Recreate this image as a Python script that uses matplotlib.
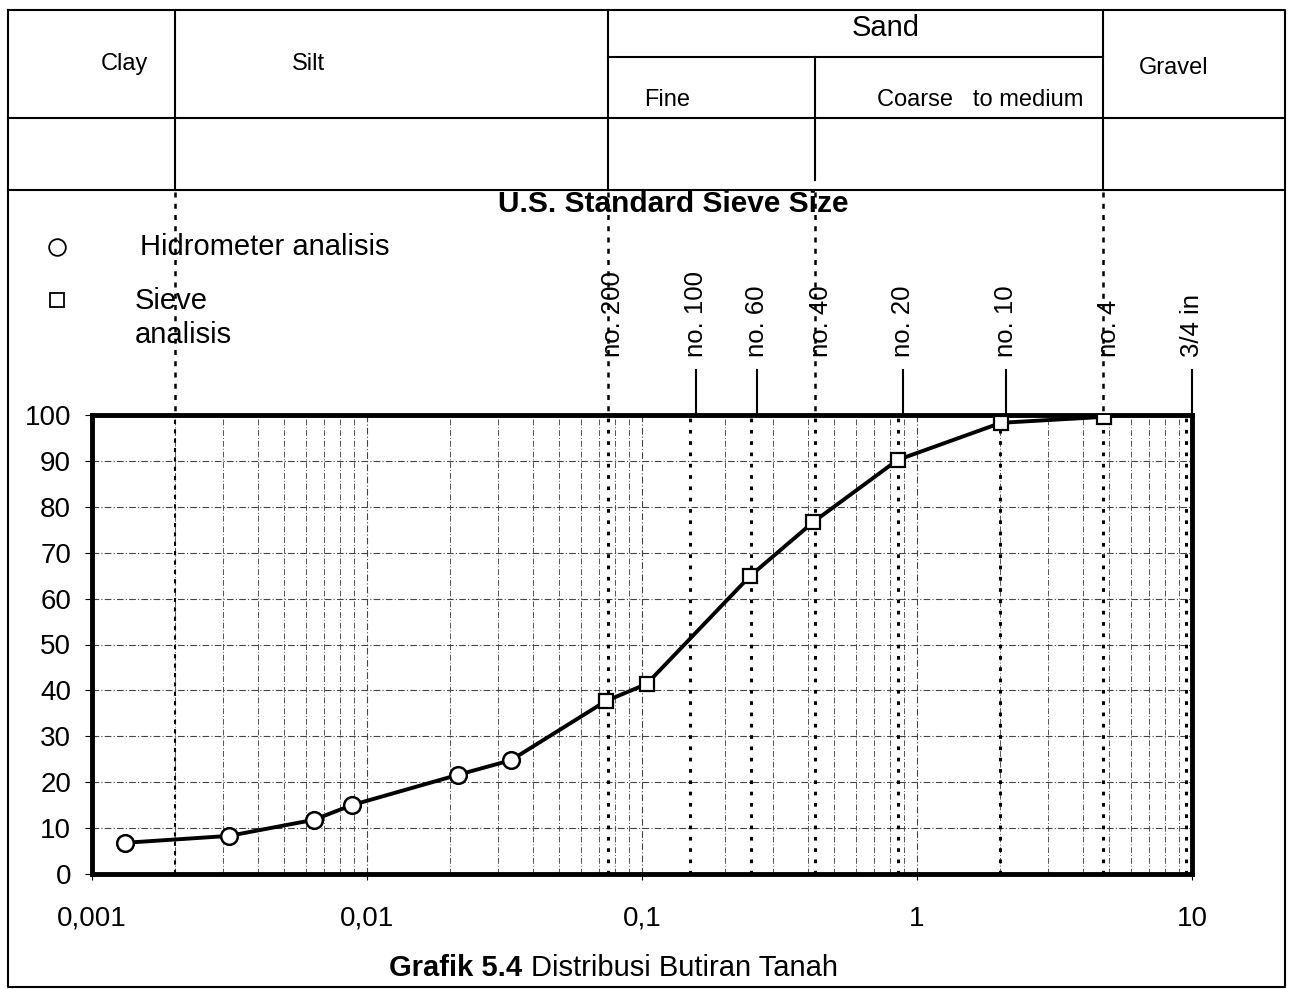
import matplotlib
matplotlib.use("Agg")
import matplotlib.pyplot as plt
import matplotlib.transforms as mtransforms
import numpy as np

plt.rcParams['font.family'] = ['Liberation Sans', 'DejaVu Sans']

# hydrometer readings (grain size mm, % finer)
hydro_d = [0.00132, 0.00315, 0.0064, 0.0088, 0.0214, 0.0334]
hydro_p = [6.8, 8.3, 11.8, 15.0, 21.6, 24.8]
# sieve readings
sieve_d = [0.074, 0.104, 0.247, 0.42, 0.85, 2.02, 4.79]
sieve_p = [37.7, 41.4, 64.9, 76.7, 90.2, 98.3, 99.6]

# US standard sieves
sieve_names = ['no. 200', 'no. 100', 'no. 60', 'no. 40', 'no. 20', 'no. 10', 'no. 4', '3/4 in']
sieve_sizes = [0.075, 0.15, 0.25, 0.425, 0.85, 2.0, 4.75, 9.5]
sieve_long = [True, False, False, True, False, False, True, False]

x_ticks = [0.001, 0.01, 0.1, 1, 10]
x_labels = ['0,001', '0,01', '0,1', '1', '10']
y_ticks = list(range(0, 101, 10))

W, H = 1291, 989
fig = plt.figure(figsize=(W / 100, H / 100), dpi=100)

# overlay in pixel coordinates (y downwards)
ov = fig.add_axes([0, 0, 1, 1])
ov.set_xlim(0, W)
ov.set_ylim(H, 0)
ov.axis('off')

ax = fig.add_axes([92 / W, (H - 874) / H, 1100 / W, (874 - 415) / H])
ax.set_xscale('log')
ax.set_xlim(0.001, 10)
ax.set_ylim(0, 100)

ax.grid(which='major', axis='both', color='#444444', lw=0.8, ls=(0, (6, 2, 1, 2)))
ax.grid(which='minor', axis='x', color='#555555', lw=0.7, ls=(0, (6, 2, 1, 2)))
ax.set_xticks(x_ticks)
ax.set_xticklabels(x_labels)
ax.set_yticks(y_ticks)
ax.tick_params(axis='x', which='major', length=4, pad=19, labelsize=20)
ax.tick_params(axis='x', which='minor', length=0)
ax.tick_params(axis='y', length=5, pad=10, labelsize=20)
for s in ax.spines.values():
    s.set_linewidth(3.5)

# sieve lines inside plot
for d in sieve_sizes:
    ax.axvline(d, color='black', lw=2.2, ls=(0, (1.2, 2.5)), zorder=2)

ax.plot(hydro_d + sieve_d, hydro_p + sieve_p, color='black', lw=2.8, zorder=3)
ax.plot(hydro_d, hydro_p, 'o', ms=12, mfc='white', mec='black', mew=1.8, zorder=4)
ax.plot(sieve_d, sieve_p, 's', ms=9.5, mfc='white', mec='black', mew=1.6, zorder=4)

# x in data units, y in pixels
bt = mtransforms.blended_transform_factory(ax.transData, ov.transData)

# outer frame and table
ov.plot([8, 1285, 1285, 8, 8], [10, 10, 987, 987, 10], color='black', lw=1.5)
ov.plot([8, 1285], [118, 118], color='black', lw=1.5)
ov.plot([8, 1285], [190, 190], color='black', lw=1.5)
ov.plot([0.075, 4.75], [57, 57], color='black', lw=1.5, transform=bt)
for d, y0, y1 in [(0.002, 10, 190), (0.075, 10, 190), (0.425, 57, 180), (4.75, 10, 190)]:
    ov.plot([d, d], [y0, y1], color='black', lw=1.5, transform=bt)

txt = dict(color='black', ha='center', va='center')
ov.text(124, 64, 'Clay', fontsize=17, **txt)
ov.text(308, 64, 'Silt', fontsize=17, **txt)
ov.text(886, 28, 'Sand', fontsize=21, **txt)
ov.text(667, 100, 'Fine', fontsize=17, **txt)
ov.text(980, 100, 'Coarse   to medium', fontsize=17, **txt)
ov.text(1174, 68, 'Gravel', fontsize=17, **txt)

ov.text(673, 204, 'U.S. Standard Sieve Size', fontsize=21.5, fontweight='bold', **txt)

# boundary dotted lines above plot
for d in [0.002, 0.075, 0.425, 4.75]:
    ov.plot([d, d], [192, 415], color='black', lw=1.8, ls=(0, (2, 2.5)), transform=bt)
ax.axvline(0.002, color='black', lw=1.5, ls=(0, (2, 2.5)), zorder=2)

# sieve labels and leader lines
for name, d, lng in zip(sieve_names, sieve_sizes, sieve_long):
    ov.text(d * 1.05, 357, name, rotation=90, fontsize=18.5, ha='center', va='bottom',
            transform=bt)
    if not lng:
        ov.plot([d * 1.05, d * 1.05], [370, 418], color='black', lw=1.5, transform=bt)

# legend
ov.plot([57], [247], 'o', ms=12, mfc='white', mec='black', mew=1.3)
ov.text(140, 247, 'Hidrometer analisis', fontsize=21, ha='left', va='center')
ov.plot([57], [300], 's', ms=10, mfc='white', mec='black', mew=1.3)
ov.text(135, 318, 'Sieve\nanalisis', fontsize=21, ha='left', va='center', linespacing=1.25)

# caption
ov.text(522, 968, 'Grafik 5.4', fontsize=21, fontweight='bold', ha='right', va='center')
ov.text(531, 968, 'Distribusi Butiran Tanah', fontsize=21, ha='left', va='center')

fig.savefig('out.png', dpi=100)
